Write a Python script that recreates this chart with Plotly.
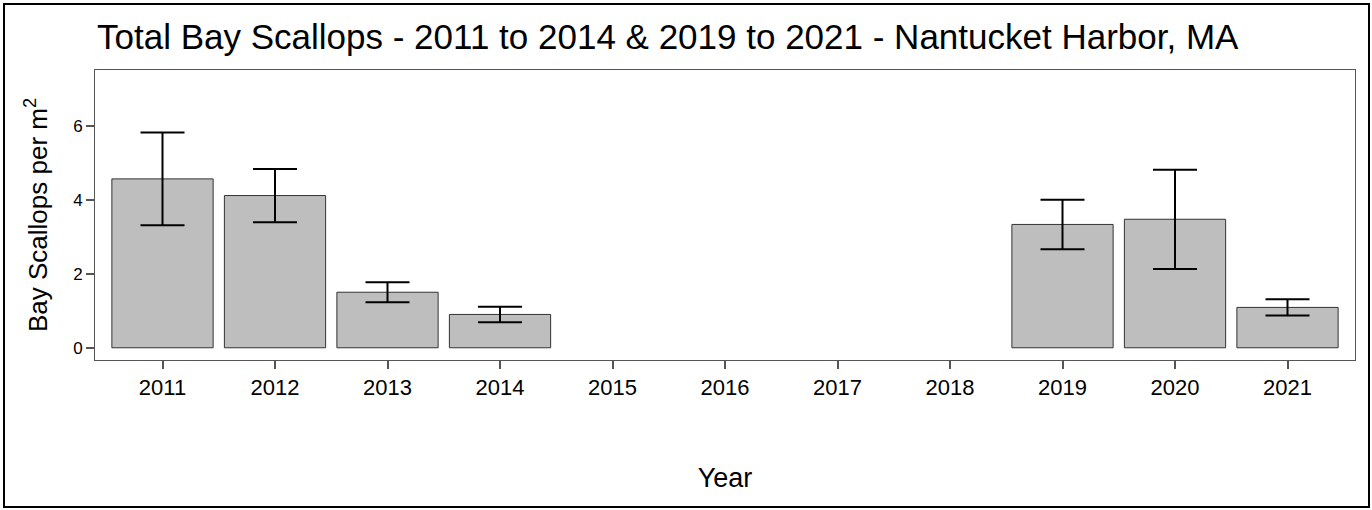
import plotly.graph_objects as go

# Annual mean density of bay scallops with standard error
years = ["2011", "2012", "2013", "2014", "2015", "2016", "2017", "2018", "2019", "2020", "2021"]
density = [4.56, 4.11, 1.50, 0.90, None, None, None, None, 3.33, 3.47, 1.09]
std_err = [1.25, 0.72, 0.27, 0.21, None, None, None, None, 0.67, 1.34, 0.22]

FONT = "Liberation Sans, Arial, sans-serif"

fig = go.Figure(
    go.Bar(
        x=years,
        y=density,
        width=0.9,
        marker=dict(color="#BEBEBE", line=dict(color="#333333", width=1)),
        error_y=dict(type="data", array=std_err, visible=True,
                     color="black", thickness=2, width=22),
    )
)

W, H = 1372, 510
ml, mr, mt, mb = 95, 17, 70, 150
pw, ph = W - ml - mr, H - mt - mb

# Outer frame around the whole graphic
fig.add_shape(type="rect", xref="paper", yref="paper",
              x0=(4 - ml) / pw, x1=(W - 3 - ml) / pw,
              y0=-(H - 3 - mt - ph) / ph, y1=1 + (mt - 4) / ph,
              line=dict(color="black", width=2), layer="below")

fig.update_layout(
    width=W, height=H,
    margin=dict(l=ml, r=mr, t=mt, b=mb),
    plot_bgcolor="white", paper_bgcolor="white",
    showlegend=False,
    font=dict(family=FONT, color="black"),
    title=dict(text="Total Bay Scallops - 2011 to 2014 & 2019 to 2021 - Nantucket Harbor, MA",
               x=97 / W, xanchor="left", y=1 - 37 / H, yanchor="middle",
               font=dict(size=35, color="black")),
    xaxis=dict(
        type="category", categoryorder="array", categoryarray=years,
        range=[-0.6, 10.6],
        showgrid=False, zeroline=False,
        showline=True, linecolor="#555555", linewidth=1, mirror=True,
        ticks="outside", ticklen=8, tickcolor="#555555", tickwidth=2,
        tickfont=dict(size=22, color="black"),
        title=dict(text="Year", font=dict(size=27), standoff=68),
    ),
    yaxis=dict(
        range=[-0.33, 7.5],
        tickvals=[0, 2, 4, 6],
        showgrid=False, zeroline=False,
        showline=True, linecolor="#555555", linewidth=1, mirror=True,
        ticks="outside", ticklen=8, tickcolor="#555555", tickwidth=2,
        tickfont=dict(size=17, color="black"),
        title=dict(text="Bay Scallops per m<sup>2</sup>", font=dict(size=26), standoff=18),
    ),
)

fig.write_html("out.html")
